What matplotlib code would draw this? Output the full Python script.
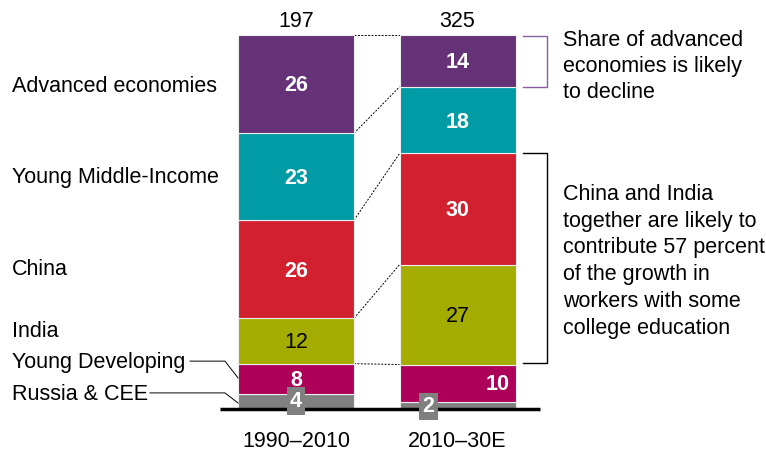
import numpy as np
import matplotlib.pyplot as plt
from matplotlib.transforms import blended_transform_factory

plt.rcParams["font.family"] = ["Liberation Sans", "DejaVu Sans"]

# -----------------------------
# Data
# -----------------------------
periods = ["1990\u20132010", "2010\u201330E"]
totals = [197, 325]
regions = ["Russia & CEE", "Young Developing", "India", "China",
           "Young Middle-Income", "Advanced economies"]
share_1990 = [4, 8, 12, 26, 23, 26]
share_2010 = [2, 10, 27, 30, 18, 14]

colors = ["#808080", "#AD0058", "#A5AC00", "#D2202F", "#009BA5", "#653177"]
text_colors = ["white", "white", "black", "white", "white", "white"]
text_weights = ["bold", "bold", "normal", "bold", "bold", "bold"]

FS = 15.5
DY = -0.5  # small downward nudge for text centring

# -----------------------------
# Figure
# -----------------------------
fig = plt.figure(figsize=(7.66, 4.55), dpi=100)
ax = fig.add_axes([0, 0, 1, 1])
ax.set_xlim(-1.833, 2.910)
ax.set_ylim(-12.3, 109.36)
ax.axis("off")

width = 0.718
xs = np.array([0.0, 1.0])
shares = [share_1990, share_2010]
# bars are drawn as full 100% columns (rounded values are rescaled)
heights = [np.array(v) / sum(v) * 100 for v in shares]

for i, h in enumerate(heights):
    bottom = 0
    for j, v in enumerate(h):
        ax.bar(xs[i], v, width=width, bottom=bottom, color=colors[j],
               edgecolor="#eeeeee", linewidth=0.8, zorder=2)
        bottom += v

# dotted connectors between matching boundaries
cum0 = np.cumsum(heights[0])
cum1 = np.cumsum(heights[1])
for a, b in zip(cum0[1:], cum1[1:]):
    ax.plot([xs[0] + width / 2, xs[1] - width / 2], [a, b], color="black",
            linestyle=(0, (2, 1.5)), linewidth=0.7, zorder=1)

# segment labels
label_dx = [[0, 0, 0, 0, 0, 0], [-0.18, 0.25, 0, 0, 0, 0]]
gray_y = [2.1, 0.7]
for i, h in enumerate(heights):
    bottom = 0
    for j, v in enumerate(h):
        x = xs[i] + label_dx[i][j]
        if j == 0:
            ax.text(x, gray_y[i], str(shares[i][j]), ha="center", va="center",
                    color="white", fontsize=FS, fontweight="bold", zorder=6,
                    bbox=dict(boxstyle="square,pad=0.15", facecolor="#808080",
                              edgecolor="none"))
        else:
            ax.text(x, bottom + v / 2 + DY, str(shares[i][j]), ha="center",
                    va="center", color=text_colors[j], fontsize=FS,
                    fontweight=text_weights[j], zorder=3)
        bottom += v

# totals and period labels
for i in range(2):
    ax.text(xs[i], 104.0 + DY, str(totals[i]), ha="center", va="center", fontsize=FS)
    ax.text(xs[i], -8.3 + DY, periods[i], ha="center", va="center", fontsize=FS)

# baseline
ax.plot([-0.47, 1.511], [0, 0], color="black", linewidth=2.5, zorder=5,
        solid_capstyle="butt")

# left region labels
trans = blended_transform_factory(ax.transAxes, ax.transData)
left_y = [4.3, 12.8, 21.1, 37.7, 62.3, 86.6]
for j, name in enumerate(regions):
    ax.text(12 / 766, left_y[j] + DY, name, ha="left", va="center", fontsize=FS,
            transform=trans)

# leader lines for small segments
ax.plot([-0.656, -0.44, -0.359], [12.8, 12.8, 8.3], color="black", linewidth=0.7)
ax.plot([-0.904, -0.44, -0.359], [4.3, 4.3, 1.6], color="black", linewidth=0.7)

# brackets
bx0, bx1 = 1.406, 1.554
ax.plot([bx0, bx1, bx1, bx0], [99.7, 99.7, 86.1, 86.1], color="#8B5DA0", linewidth=1)
ax.plot([bx0, bx1, bx1, bx0], [68.4, 68.4, 12.3, 12.3], color="black", linewidth=1)

ax.text(1.653, 91.6, "Share of advanced\neconomies is likely\nto decline",
        ha="left", va="center", fontsize=FS, linespacing=1.29)
ax.text(1.653, 39.5, "China and India\ntogether are likely to\n"
        "contribute 57 percent\nof the growth in\nworkers with some\n"
        "college education",
        ha="left", va="center", fontsize=FS, linespacing=1.36)

fig.savefig("out.png", dpi=100)
